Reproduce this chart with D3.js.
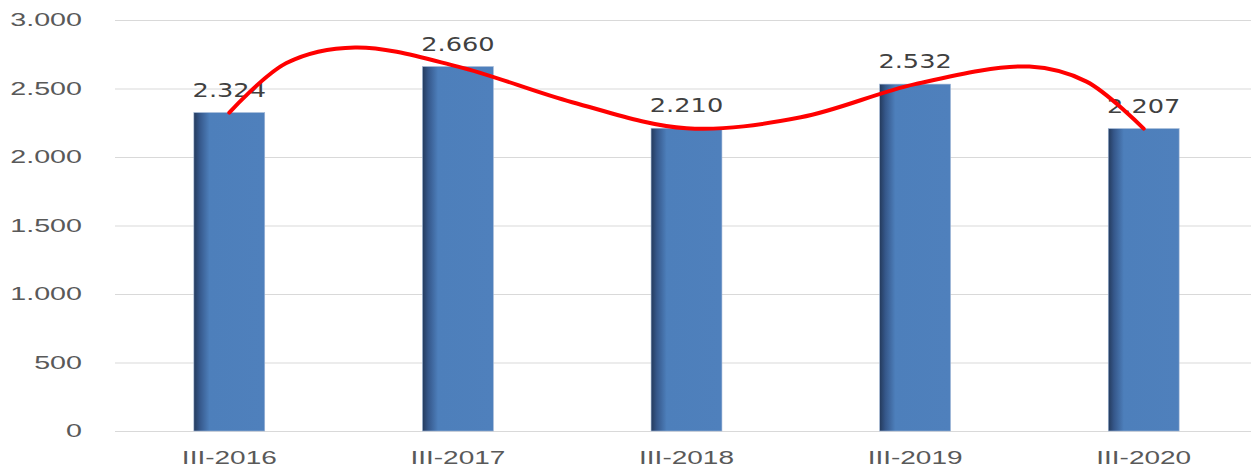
<!DOCTYPE html>
<html>
<head>
<meta charset="utf-8">
<script src="https://cdn.jsdelivr.net/npm/d3@7"></script>
<style>
  html, body { margin: 0; padding: 0; background: #fff; }
</style>
</head>
<body>
<div id="chart"></div>
<script>
// dữ liệu
const categories = ["III-2016", "III-2017", "III-2018", "III-2019", "III-2020"];
const values = [2324, 2660, 2210, 2532, 2207];
const yTicks = [0, 500, 1000, 1500, 2000, 2500, 3000];
// đường cong đỏ: vị trí (theo chỉ số danh mục) và giá trị
const trendPos = [0, 0.25, 0.55, 1, 1.5, 2, 2.5, 3, 3.5, 3.75, 4];
const trendVals = [2324, 2686, 2800, 2660, 2400, 2210, 2290, 2532, 2660, 2550, 2207];

const W = 1251, H = 467;
const plot = { left: 115, right: 1258, top: 20, bottom: 431 };
const sx = 1.35; // chữ trong ảnh gốc bị kéo giãn ngang

const svg = d3.select("#chart").append("svg")
    .attr("width", W)
    .attr("height", H)
    .style("font-family", "'DejaVu Sans', Verdana, sans-serif");

const defs = svg.append("defs");
const grad = defs.append("linearGradient")
    .attr("id", "barGrad")
    .attr("x1", "0").attr("x2", "1").attr("y1", "0").attr("y2", "0");
grad.append("stop").attr("offset", "0%").attr("stop-color", "#243a5c");
grad.append("stop").attr("offset", "8%").attr("stop-color", "#35578a");
grad.append("stop").attr("offset", "22%").attr("stop-color", "#4d7fbb");
grad.append("stop").attr("offset", "100%").attr("stop-color", "#4f80bc");

const x = d3.scaleBand()
    .domain(categories)
    .range([plot.left, plot.right])
    .paddingInner(0.69)
    .paddingOuter(0.345);

const y = d3.scaleLinear()
    .domain([0, 3000])
    .range([plot.bottom, plot.top]);

const fmt = d => d3.format(",")(d).replace(/,/g, ".");

// trục y + lưới
const yAxis = svg.append("g")
    .attr("transform", `translate(${plot.left},0)`)
    .call(d3.axisLeft(y).tickValues(yTicks).tickSize(-(W - plot.left)).tickFormat(fmt));
yAxis.select(".domain").remove();
yAxis.selectAll(".tick line").attr("stroke", "#d9d9d9");
yAxis.selectAll(".tick text")
    .attr("x", null)
    .attr("transform", `translate(-33,0) scale(1.55,1)`)
    .attr("fill", "#595959")
    .style("font-size", "18.5px");

// trục x
const xAxis = svg.append("g")
    .attr("transform", `translate(0,${plot.bottom})`)
    .call(d3.axisBottom(x).tickSize(0));
xAxis.select(".domain").attr("stroke", "#d9d9d9").attr("d", `M${plot.left},0.5H${W}`);
xAxis.selectAll(".tick text")
    .attr("y", null)
    .attr("dy", null)
    .attr("transform", `translate(0,33) scale(1.6,1)`)
    .attr("fill", "#595959")
    .style("font-size", "17.5px");

// cột
svg.selectAll(".bar")
    .data(values)
    .enter()
    .append("rect")
    .attr("class", "bar")
    .attr("x", (d, i) => x(categories[i]))
    .attr("y", d => y(d))
    .attr("width", x.bandwidth())
    .attr("height", d => y(0) - y(d))
    .attr("fill", "url(#barGrad)")
    .attr("stroke", "#9fb6d6")
    .attr("stroke-width", 0.6);

// nhãn giá trị
svg.selectAll(".label")
    .data(values)
    .enter()
    .append("text")
    .attr("class", "label")
    .attr("transform", (d, i) => `translate(${x(categories[i]) + x.bandwidth() / 2},${y(d) - 16}) scale(${sx},1)`)
    .attr("text-anchor", "middle")
    .attr("fill", "#404040")
    .style("font-size", "19px")
    .text(fmt);

// đường cong đỏ
const xc = d3.scaleLinear()
    .domain([0, categories.length - 1])
    .range([x(categories[0]) + x.bandwidth() / 2, x(categories[categories.length - 1]) + x.bandwidth() / 2]);

const line = d3.line()
    .x((d, i) => xc(trendPos[i]))
    .y(d => y(d))
    .curve(d3.curveCatmullRom.alpha(0.5));

svg.append("path")
    .datum(trendVals)
    .attr("d", line)
    .attr("fill", "none")
    .attr("stroke", "#ff0000")
    .attr("stroke-width", 4)
    .attr("stroke-linecap", "round");
</script>
</body>
</html>
